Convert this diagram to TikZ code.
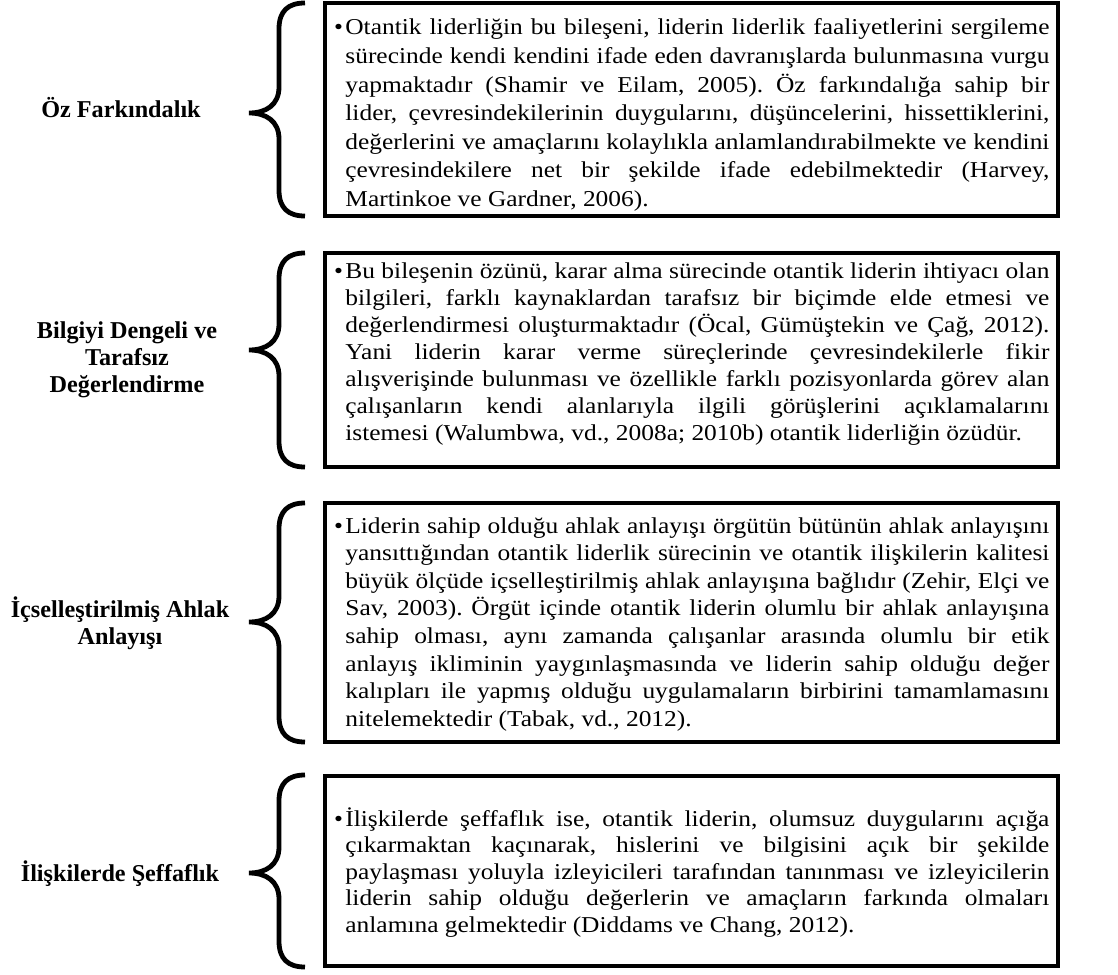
\documentclass[tikz,border=0pt]{standalone}
\usepackage{fontspec}
\setmainfont{Liberation Serif}
\newfontfamily\bodyfont{Liberation Serif}[FakeStretch=1.12]
% one justified line of a paragraph
\newcommand\jline[1]{\makebox[\linewidth][s]{#1}\\}
\newcommand\itembullet{\llap{\textbullet\hspace{1.2pt}}}
% curly brace: top y, tip y, bottom y
\newcommand\curly[3]{%
  \draw[bracestroke] (305,#1) .. controls (288,#1) and (279,#1+8) .. (279,#1+26)
    -- (279,#2-26) .. controls (279,#2-8) and (266,#2) .. (249,#2)
    .. controls (266,#2) and (279,#2+8) .. (279,#2+26)
    -- (279,#3-26) .. controls (279,#3-8) and (288,#3) .. (305,#3);}
\begin{document}
\frenchspacing
\begin{tikzpicture}[x=0.5pt,y=-0.5pt,
  boxline/.style={draw=black, line width=2.4pt},
  bracestroke/.style={draw=black, line width=2.4pt},
  para/.style={inner sep=0pt, anchor=base west, font=\bodyfont\frenchspacing},
  heading/.style={inner sep=0pt, anchor=base, font=\bfseries}]
\useasboundingbox (0,0) rectangle (1118,974);

% frames around the four descriptions
\draw[boxline] (325,3) rectangle (1058,216);
\draw[boxline] (325,253) rectangle (1058,467);
\draw[boxline] (325,503) rectangle (1058,742);
\draw[boxline] (325,776) rectangle (1058,966);

% braces
\curly{3}{113}{216}
\curly{253}{350}{467}
\curly{503}{622}{742}
\curly{775}{873}{967}

% dimension names
\node[heading] (h1) at (121,118) {\parbox[t]{200pt}{\centering\fontsize{12.1}{13.5}\selectfont Öz Farkındalık}};
\node[heading] (h2) at (127,338) {\parbox[t]{200pt}{\centering\fontsize{12.1}{13.5}\selectfont Bilgiyi Dengeli ve\\Tarafsız\\Değerlendirme}};
\node[heading] (h3) at (120,617) {\parbox[t]{200pt}{\centering\fontsize{12.1}{13.5}\selectfont İçselleştirilmiş Ahlak\\Anlayışı}};
\node[heading] (h4) at (120,881) {\parbox[t]{200pt}{\centering\fontsize{12.1}{13.5}\selectfont İlişkilerde Şeffaflık}};

% descriptions
\node[para] (p1) at (345,35) {\parbox[t]{352pt}{\fontsize{11.35}{14.3}\selectfont
\jline{\itembullet Otantik liderliğin bu bileşeni, liderin liderlik faaliyetlerini sergileme}
\jline{sürecinde kendi kendini ifade eden davranışlarda bulunmasına vurgu}
\jline{yapmaktadır (Shamir ve Eilam, 2005). Öz farkındalığa sahip bir}
\jline{lider, çevresindekilerinin duygularını, düşüncelerini, hissettiklerini,}
\jline{değerlerini ve amaçlarını kolaylıkla anlamlandırabilmekte ve kendini}
\jline{çevresindekilere net bir şekilde ifade edebilmektedir (Harvey,}
Martinkoe ve Gardner, 2006).}};

\node[para] (p2) at (345,278) {\parbox[t]{352pt}{\fontsize{11.35}{13.5}\selectfont
\jline{\itembullet Bu bileşenin özünü, karar alma sürecinde otantik liderin ihtiyacı olan}
\jline{bilgileri, farklı kaynaklardan tarafsız bir biçimde elde etmesi ve}
\jline{değerlendirmesi oluşturmaktadır (Öcal, Gümüştekin ve Çağ, 2012).}
\jline{Yani liderin karar verme süreçlerinde çevresindekilerle fikir}
\jline{alışverişinde bulunması ve özellikle farklı pozisyonlarda görev alan}
\jline{çalışanların kendi alanlarıyla ilgili görüşlerini açıklamalarını}
istemesi (Walumbwa, vd., 2008a; 2010b) otantik liderliğin özüdür.}};

\node[para] (p3) at (345,533) {\parbox[t]{352pt}{\fontsize{11.35}{13.8}\selectfont
\jline{\itembullet Liderin sahip olduğu ahlak anlayışı örgütün bütünün ahlak anlayışını}
\jline{yansıttığından otantik liderlik sürecinin ve otantik ilişkilerin kalitesi}
\jline{büyük ölçüde içselleştirilmiş ahlak anlayışına bağlıdır (Zehir, Elçi ve}
\jline{Sav, 2003). Örgüt içinde otantik liderin olumlu bir ahlak anlayışına}
\jline{sahip olması, aynı zamanda çalışanlar arasında olumlu bir etik}
\jline{anlayış ikliminin yaygınlaşmasında ve liderin sahip olduğu değer}
\jline{kalıpları ile yapmış olduğu uygulamaların birbirini tamamlamasını}
nitelemektedir (Tabak, vd., 2012).}};

\node[para] (p4) at (345,826) {\parbox[t]{352pt}{\fontsize{11.35}{13.3}\selectfont
\jline{\itembullet İlişkilerde şeffaflık ise, otantik liderin, olumsuz duygularını açığa}
\jline{çıkarmaktan kaçınarak, hislerini ve bilgisini açık bir şekilde}
\jline{paylaşması yoluyla izleyicileri tarafından tanınması ve izleyicilerin}
\jline{liderin sahip olduğu değerlerin ve amaçların farkında olmaları}
anlamına gelmektedir (Diddams ve Chang, 2012).}};
\end{tikzpicture}
\end{document}
